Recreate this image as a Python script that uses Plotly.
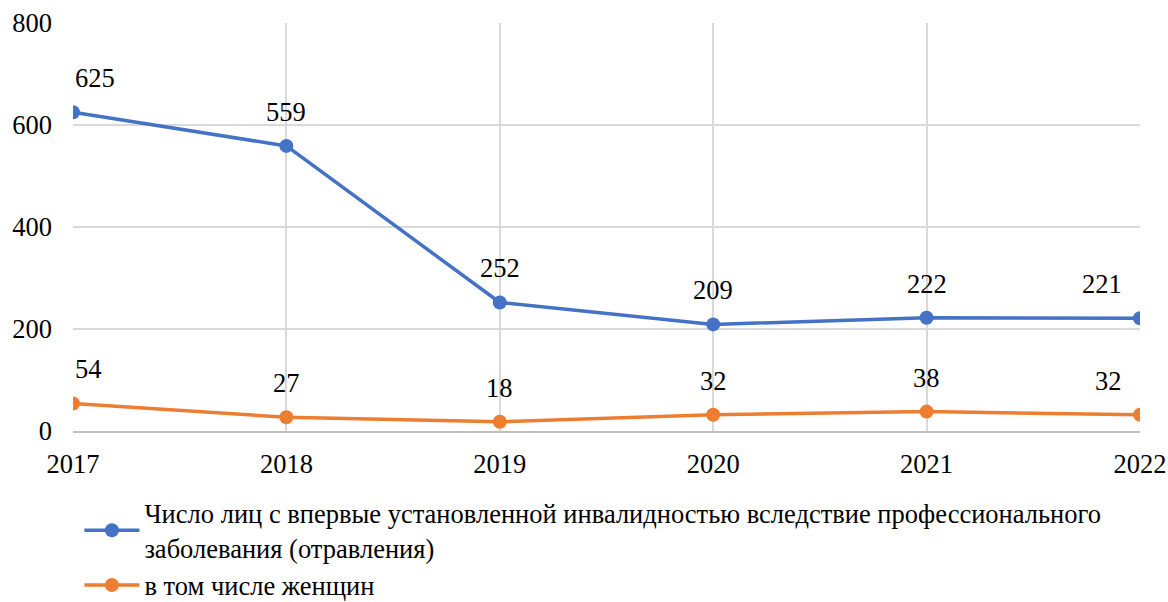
import plotly.graph_objects as go

years = [2017, 2018, 2019, 2020, 2021, 2022]
total = [625, 559, 252, 209, 222, 221]
women = [54, 27, 18, 32, 38, 32]
name_total = "Число лиц с впервые установленной инвалидностью вследствие профессионального<br>заболевания (отравления)"
name_women = "в том числе женщин"
y_ticks = [0, 200, 400, 600, 800]

FONT = "Liberation Serif"
FS = 26.5
BLUE = "#4472C4"
ORANGE = "#ED7D31"

fig = go.Figure()
fig.add_trace(go.Scatter(x=years, y=total, name=name_total, mode="lines+markers",
                         line=dict(color=BLUE, width=3.5), marker=dict(size=14, color=BLUE)))
fig.add_trace(go.Scatter(x=years, y=women, name=name_women, mode="lines+markers",
                         line=dict(color=ORANGE, width=3.5), marker=dict(size=14, color=ORANGE)))

anns = []
n = len(years)
for series in (total, women):
    for i, (x, y) in enumerate(zip(years, series)):
        if i == 0:
            xa, xs = "left", 0
        elif i == n - 1:
            xa, xs = "right", -16
        else:
            xa, xs = "center", 0
        anns.append(dict(x=x, y=y, text=str(y), showarrow=False, xanchor=xa, yanchor="middle",
                         xshift=xs, yshift=34, font=dict(family=FONT, size=FS, color="black")))

fig.update_layout(
    width=1168, height=602,
    margin=dict(l=73, r=28, t=23, b=171, autoexpand=False),
    paper_bgcolor="white", plot_bgcolor="white",
    font=dict(family=FONT, size=FS, color="black"),
    annotations=anns,
    showlegend=True,
    legend=dict(orientation="v", x=0.006, xanchor="left", y=-0.143, yanchor="top",
                font=dict(family=FONT, size=FS, color="black"), tracegroupgap=0,
                itemwidth=55, bgcolor="rgba(0,0,0,0)"),
    xaxis=dict(range=[2017, 2022], tickvals=years, ticktext=[str(y) for y in years],
               showgrid=True, gridcolor="#D9D9D9", gridwidth=1.5, zeroline=False,
               showline=True, linecolor="#BFBFBF", linewidth=2, ticks="", automargin=False,
               ticklabelstandoff=8, tickfont=dict(family=FONT, size=FS)),
    yaxis=dict(range=[0, 800], tickvals=y_ticks, showgrid=True, gridcolor="#D9D9D9",
               gridwidth=1.5, zeroline=False, showline=False, ticks="", automargin=False,
               ticklabelstandoff=20, tickfont=dict(family=FONT, size=FS)),
)
fig.write_html("out.html", config={"displayModeBar": False},
               post_script="document.body.style.margin='0';document.body.style.overflow='hidden';")
